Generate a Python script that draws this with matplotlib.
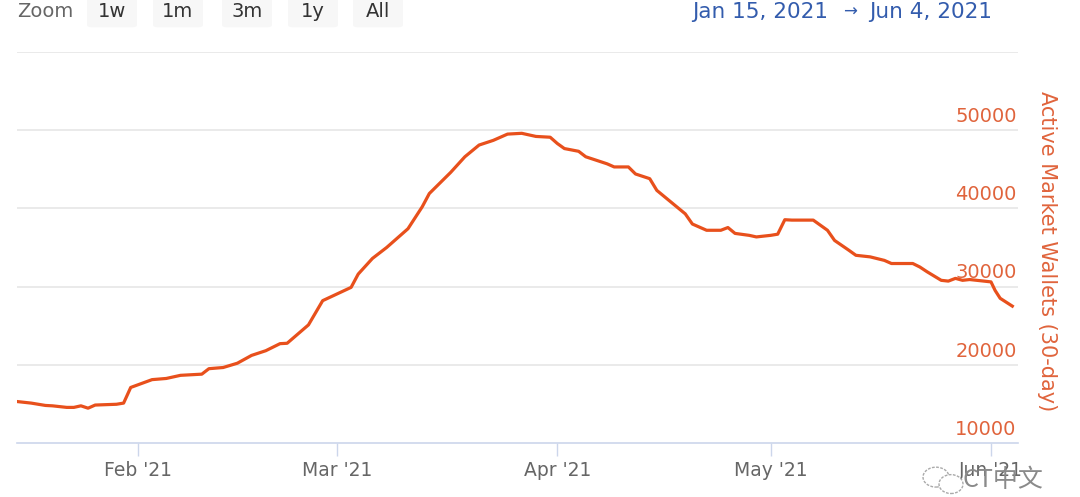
import matplotlib.pyplot as plt
import matplotlib.dates as mdates
from matplotlib.patches import FancyBboxPatch, Ellipse
import pandas as pd

# values (30-day active market wallets)
dates = [
    "2021-01-15", "2021-01-17", "2021-01-19", "2021-01-20", "2021-01-22",
    "2021-01-23", "2021-01-24", "2021-01-25", "2021-01-26", "2021-01-29",
    "2021-01-30", "2021-01-31", "2021-02-03", "2021-02-05", "2021-02-07",
    "2021-02-10", "2021-02-11", "2021-02-13", "2021-02-15", "2021-02-17",
    "2021-02-19", "2021-02-21", "2021-02-22", "2021-02-25", "2021-02-27",
    "2021-03-03", "2021-03-04", "2021-03-06", "2021-03-08", "2021-03-11",
    "2021-03-13", "2021-03-14", "2021-03-17", "2021-03-19", "2021-03-21",
    "2021-03-23", "2021-03-25", "2021-03-27", "2021-03-29", "2021-03-31",
    "2021-04-01", "2021-04-02", "2021-04-04", "2021-04-05", "2021-04-07",
    "2021-04-08", "2021-04-09", "2021-04-11", "2021-04-12", "2021-04-14",
    "2021-04-15", "2021-04-17", "2021-04-19", "2021-04-20", "2021-04-22",
    "2021-04-24", "2021-04-25", "2021-04-26", "2021-04-28", "2021-04-29",
    "2021-05-01", "2021-05-02", "2021-05-03", "2021-05-04", "2021-05-07",
    "2021-05-08", "2021-05-09", "2021-05-10", "2021-05-12", "2021-05-13",
    "2021-05-15", "2021-05-17", "2021-05-18", "2021-05-21", "2021-05-22",
    "2021-05-23", "2021-05-25", "2021-05-26", "2021-05-27", "2021-05-28",
    "2021-05-29", "2021-06-01", "2021-06-01 14:00", "2021-06-02 07:00",
    "2021-06-04",
]
wallets = [
    15300, 15100, 14800, 14750, 14550,
    14550, 14750, 14450, 14850, 14950,
    15100, 17100, 18100, 18250, 18650,
    18800, 19500, 19650, 20200, 21200,
    21800, 22700, 22750, 25100, 28200,
    29900, 31600, 33600, 35000, 37400,
    40200, 41900, 44600, 46600, 48100,
    48700, 49500, 49600, 49200, 49100,
    48300, 47650, 47300, 46600, 46000,
    45700, 45300, 45300, 44400, 43800,
    42300, 40800, 39300, 38000, 37200,
    37200, 37550, 36800, 36550, 36350,
    36550, 36700, 38550, 38500, 38500,
    37850, 37200, 35900, 34650, 34000,
    33800, 33350, 32950, 32950, 32500,
    31900, 30800, 30700, 31050, 30800,
    30900, 30600, 29500, 28500,
    27500,
]

y_ticks = [10000, 20000, 30000, 40000, 50000]
x_ticks = ["2021-02-01", "2021-03-01", "2021-04-01", "2021-05-01", "2021-06-01"]
x_labels = ["Feb '21", "Mar '21", "Apr '21", "May '21", "Jun '21"]
zoom_buttons = ["1w", "1m", "3m", "1y", "All"]

line_color = "#e8501c"
label_color = "#e0643c"

fig = plt.figure(figsize=(10.8, 4.97), dpi=100)
ax = fig.add_axes([0.0157, 0.1087, 0.9269, 0.7867])

x = pd.to_datetime(dates, format="mixed")
ax.plot(x, wallets, color=line_color, linewidth=2.3, solid_joinstyle="round", zorder=3)

start = pd.Timestamp("2021-01-15")
ax.set_xlim(start, start + pd.Timedelta(days=140.8))
ax.set_ylim(10000, 60000)

# grid lines
for v in y_ticks[1:] + [60000]:
    ax.axhline(v, color="#e6e6e6", linewidth=1.2, zorder=1)

for s in ["top", "right", "left"]:
    ax.spines[s].set_visible(False)
ax.spines["bottom"].set_color("#ccd6eb")
ax.spines["bottom"].set_linewidth(1.2)

ax.set_yticks([])
ax.set_xticks(pd.to_datetime(x_ticks))
ax.set_xticklabels(x_labels)
ax.tick_params(axis="x", length=9, width=1, color="#ccd6eb", pad=4,
               labelsize=13.5, labelcolor="#666666")

# y labels sit above their grid lines, inside the plot on the right
for v in y_ticks:
    ax.annotate(f"{v}", xy=(1.0, v), xycoords=("axes fraction", "data"),
                xytext=(-1, 3), textcoords="offset points",
                ha="right", va="bottom", fontsize=14, color=label_color, zorder=2)

fig.text(0.969, 0.495, "Active Market Wallets (30-day)", rotation=270,
         ha="center", va="center", fontsize=15, color=label_color)

# range selector strip at the top (cut off in the screenshot)
top_y = 0.976
fig.text(0.016, top_y, "Zoom", ha="left", va="center", fontsize=14, color="#666666")
btn_left = [87, 153, 222, 288, 353]
for lbl, bx in zip(zoom_buttons, btn_left):
    fig.patches.append(FancyBboxPatch((bx / 1080, 0.945), 50 / 1080, 0.08,
                                      boxstyle="round,pad=0,rounding_size=0.005",
                                      transform=fig.transFigure, facecolor="#f7f7f7",
                                      edgecolor="none"))
    fig.text((bx + 25) / 1080, top_y, lbl, ha="center", va="center",
             fontsize=14, color="#333333")

fig.text(0.767, top_y, "Jan 15, 2021", ha="right", va="center", fontsize=15.5, color="#335cad")
fig.text(0.787, top_y, "\u2192", ha="center", va="center", fontsize=12, color="#335cad")
fig.text(0.805, top_y, "Jun 4, 2021", ha="left", va="center", fontsize=15.5, color="#335cad")

# watermark
fig.patches.append(Ellipse((936 / 1080, 0.04), 26 / 1080, 0.04, transform=fig.transFigure,
                           facecolor="none", edgecolor="#aaaaaa", linewidth=1, linestyle=(0, (2, 1))))
fig.patches.append(Ellipse((951 / 1080, 0.026), 24 / 1080, 0.038, transform=fig.transFigure,
                           facecolor="white", edgecolor="#aaaaaa", linewidth=1, linestyle=(0, (2, 1))))
fig.text(0.891, 0.035, "CT中文", ha="left", va="center", fontsize=18, color="#8a8a8a",
         family=["Noto Sans CJK SC", "DejaVu Sans"])

fig.savefig("out.png", dpi=100)
